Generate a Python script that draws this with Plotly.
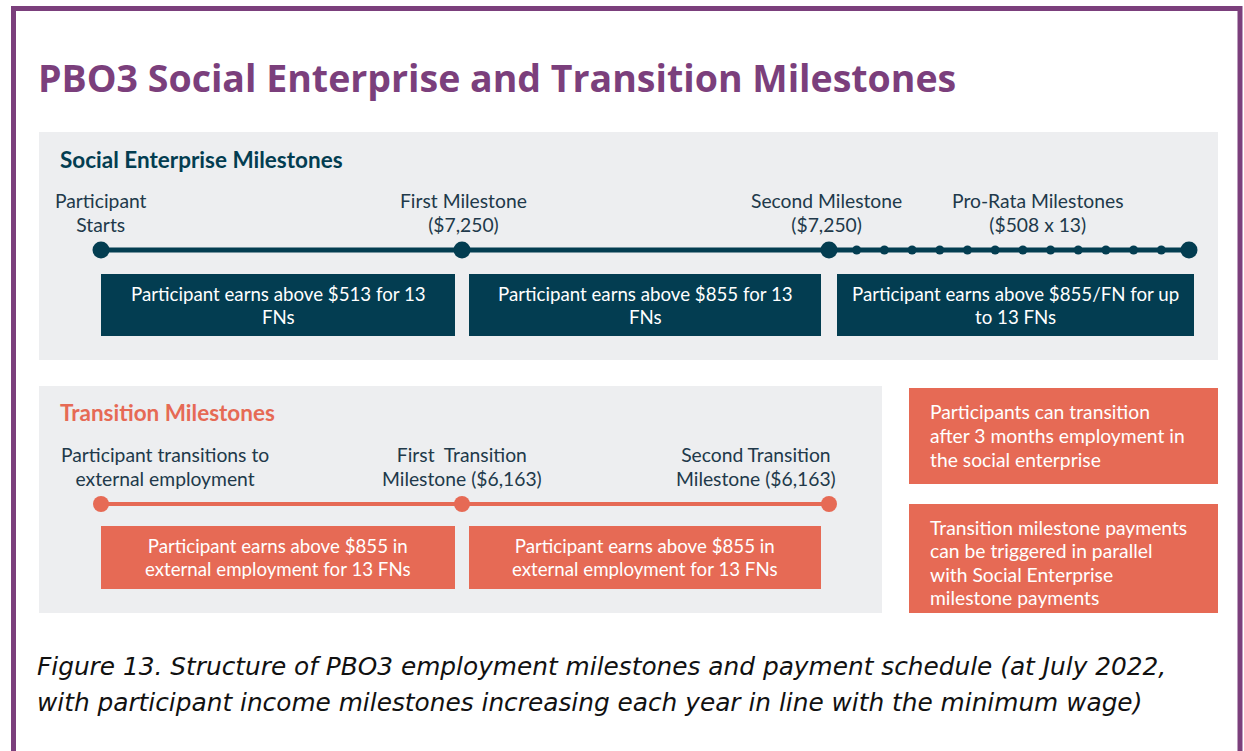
import numpy as np
import plotly.graph_objects as go

W, H = 1244, 751

# ---------------- content ----------------
title_text = "PBO3 Social Enterprise and Transition Milestones"

se_heading = "Social Enterprise Milestones"
se_milestone_labels = ["Participant<br>Starts", "First Milestone<br>($7,250)",
                       "Second Milestone<br>($7,250)", "Pro-Rata Milestones<br>($508 x 13)"]
se_box_texts = ["Participant earns above $513 for 13<br>FNs",
                "Participant earns above $855 for 13<br>FNs",
                "Participant earns above $855/FN for up<br>to 13 FNs"]
pro_rata_count = 13

tr_heading = "Transition Milestones"
tr_milestone_labels = ["Participant transitions to<br>external employment",
                       "First\u00a0 Transition<br>Milestone ($6,163)",
                       "Second Transition<br>Milestone ($6,163)"]
tr_box_texts = ["Participant earns above $855 in<br>external employment for 13 FNs",
                "Participant earns above $855 in<br>external employment for 13 FNs"]

note_texts = ["Participants can transition<br>after 3 months employment in<br>the social enterprise",
              "Transition milestone payments<br>can be triggered in parallel<br>with Social Enterprise<br>milestone payments"]

caption_lines = ["Figure 13. Structure of PBO3 employment milestones and payment schedule (at July 2022,",
                 "with participant income milestones increasing each year in line with the minimum wage)"]

# ---------------- style / layout ----------------
PURPLE = "#7b3f7c"
TEAL = "#033d51"
CORAL = "#e66a55"
PANEL = "#edeef0"
LABEL = "#21394a"
FONT = "Lato"

se_x = [101, 462, 829, 1189]
se_label_x = [101, 463, 826, 1038]
se_line_y = 250
se_boxes = [(101, 455), (469, 821), (837, 1194)]
se_box_y = (274, 336)

tr_x = [101, 462, 829]
tr_label_x = [165, 462, 756]
tr_line_y = 504
tr_boxes = [(101, 455), (469, 821)]
tr_box_y = (526, 589)

note_boxes = [(909, 1218, 388, 484), (909, 1218, 504, 613)]

fig = go.Figure()
shapes = []
annotations = []


def rect(x0, x1, y0, y1, color):
    shapes.append(dict(type="rect", xref="x", yref="y", x0=x0, x1=x1, y0=y0, y1=y1,
                       fillcolor=color, line=dict(color=color, width=0), layer="below"))


def text(x, y, s, size, color, xanchor="center", bold=False, italic=False,
         family=FONT, spacing=None, align=None):
    """One text block; `spacing` sets the line pitch (px) while glyphs keep `size`."""
    base = size if spacing is None else spacing / 1.3
    if spacing is not None:
        s = "<br>".join(f'<span style="font-size:{size}px">{ln}</span>'
                        for ln in s.split("<br>"))
    annotations.append(dict(x=x, y=y, xref="x", yref="y", text=s, showarrow=False,
                            xanchor=xanchor, yanchor="middle", align=align or xanchor,
                            font=dict(size=base, color=color, family=family,
                                      weight="bold" if bold else "normal",
                                      style="italic" if italic else "normal")))


# outer purple frame
shapes.append(dict(type="rect", xref="x", yref="y", x0=13.5, x1=1240, y0=8.5, y1=800,
                   fillcolor="rgba(0,0,0,0)", line=dict(color=PURPLE, width=5)))

# title
text(36, 77, title_text, 37.5, PURPLE, xanchor="left", bold=True, family="Open Sans")

# panels
rect(39, 1218, 132, 360, PANEL)
rect(39, 882, 386, 613, PANEL)

# social enterprise section
text(58, 159, se_heading, 22.5, TEAL, xanchor="left", bold=True)
for lx, lab in zip(se_label_x, se_milestone_labels):
    text(lx, 212, lab, 19.3, LABEL, spacing=24)
for (x0, x1), t in zip(se_boxes, se_box_texts):
    rect(x0, x1, se_box_y[0], se_box_y[1], TEAL)
    text((x0 + x1) / 2, 305, t, 18.7, "white", spacing=22.5)

fig.add_trace(go.Scatter(x=[se_x[0], se_x[-1]], y=[se_line_y, se_line_y], mode="lines",
                         line=dict(color=TEAL, width=5), hoverinfo="skip"))
pr_x = np.linspace(se_x[2], se_x[3], pro_rata_count + 1)[1:-1]
fig.add_trace(go.Scatter(x=pr_x, y=[se_line_y] * len(pr_x), mode="markers",
                         marker=dict(color=TEAL, size=9), hoverinfo="skip"))
fig.add_trace(go.Scatter(x=se_x, y=[se_line_y] * len(se_x), mode="markers",
                         marker=dict(color=TEAL, size=17), hoverinfo="skip"))

# transition section
text(58, 412, tr_heading, 22.5, CORAL, xanchor="left", bold=True)
for lx, lab in zip(tr_label_x, tr_milestone_labels):
    text(lx, 466, lab, 19.3, LABEL, spacing=24)
for (x0, x1), t in zip(tr_boxes, tr_box_texts):
    rect(x0, x1, tr_box_y[0], tr_box_y[1], CORAL)
    text((x0 + x1) / 2, 557.5, t, 18.7, "white", spacing=22.5)

fig.add_trace(go.Scatter(x=[tr_x[0], tr_x[-1]], y=[tr_line_y, tr_line_y], mode="lines",
                         line=dict(color=CORAL, width=4), hoverinfo="skip"))
fig.add_trace(go.Scatter(x=tr_x, y=[tr_line_y] * len(tr_x), mode="markers",
                         marker=dict(color=CORAL, size=16), hoverinfo="skip"))

# notes
for (x0, x1, y0, y1), t, cy, sp in zip(note_boxes, note_texts, [435, 562], [24, 23.4]):
    rect(x0, x1, y0, y1, CORAL)
    text(928, cy, t, 19.3, "white", xanchor="left", spacing=sp)

# caption
for i, c in enumerate(caption_lines):
    text(35, 666 + i * 36, c, 24.8, "#111111", xanchor="left", italic=True,
         family="DejaVu Sans")

fig.update_layout(
    width=W, height=H, margin=dict(l=0, r=0, t=0, b=0),
    paper_bgcolor="white", plot_bgcolor="white", showlegend=False,
    xaxis=dict(range=[0, W], visible=False, fixedrange=True),
    yaxis=dict(range=[H, 0], visible=False, fixedrange=True),
    shapes=shapes, annotations=annotations,
)
fig.write_html("out.html", config={"displayModeBar": False},
               post_script="document.body.style.margin='0';document.body.style.overflow='hidden';")
